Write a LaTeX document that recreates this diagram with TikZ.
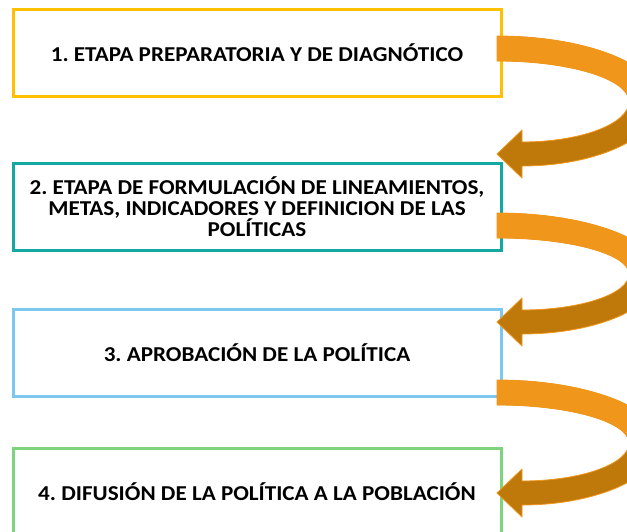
\documentclass[tikz,border=0pt]{standalone}
\usepackage{fontspec}
\setmainfont{Carlito}[FakeStretch=1.09]
\frenchspacing
\definecolor{cyellow}{HTML}{FFC000}
\definecolor{cteal}{HTML}{14A8A3}
\definecolor{cblue}{HTML}{7CC7F0}
\definecolor{cgreen}{HTML}{7ED47E}
\definecolor{arrorange}{HTML}{F0961A}
\definecolor{arrdark}{HTML}{BF780A}
\newcommand{\bentarrow}[2]{%
  \pgfmathsetmacro{\ya}{#1}%
  \pgfmathsetmacro{\yt}{#2}%
  \pgfmathsetmacro{\ymo}{(#1+#2+12)/2}%
  \pgfmathsetmacro{\hyo}{(#2+12-#1)/2}%
  \pgfmathsetmacro{\ymi}{(#1+25+#2-12)/2}%
  \pgfmathsetmacro{\hyi}{(#2-12-#1-25)/2}%
  \def\arrowpath{(497,\ya) .. controls (587,\ya) and (660,\ymo-0.552*\hyo) .. (660,\ymo)
    .. controls (660,\ymo+0.552*\hyo) and (597,\yt+12) .. (522,\yt+12)
    -- (522,\yt+24) -- (497,\yt) -- (522,\yt-24) -- (522,\yt-12)
    .. controls (581,\yt-12) and (629,\ymi+0.552*\hyi) .. (629,\ymi)
    .. controls (629,\ymi-0.552*\hyi) and (570,\ya+25) .. (497,\ya+25) -- cycle}%
  \fill[arrdark] \arrowpath;
  \begin{scope}
    \clip (400,0) rectangle (700,\ymo);
    \fill[arrorange] \arrowpath;
  \end{scope}
  \draw[arrorange, line width=0.8pt, line join=round] \arrowpath;
}
\begin{document}
\begin{tikzpicture}[x=1pt,y=-1pt]
\tikzset{stagebox/.style={draw=#1, line width=3pt, minimum width=488pt, minimum height=87pt,
  fill=white, inner sep=0pt, align=center, font=\bfseries\fontsize{21.2}{20.6}\selectfont}}
\useasboundingbox (0,0) rectangle (627,531);
\clip (0,0) rectangle (627,531);
\node[stagebox=cyellow] (s1) at (257,53) {1. ETAPA PREPARATORIA Y DE DIAGNÓTICO};
\node[stagebox=cteal] (s2) at (257,207) {2. ETAPA DE FORMULACIÓN DE LINEAMIENTOS,\\METAS, INDICADORES Y DEFINICION DE LAS\\POLÍTICAS};
\node[stagebox=cblue] (s3) at (257,353) {3. APROBACIÓN DE LA POLÍTICA};
\node[stagebox=cgreen] (s4) at (257,492) {4. DIFUSIÓN DE LA POLÍTICA A LA POBLACIÓN};
\bentarrow{36}{154}
\bentarrow{213}{322}
\bentarrow{380}{493}
\end{tikzpicture}
\end{document}
